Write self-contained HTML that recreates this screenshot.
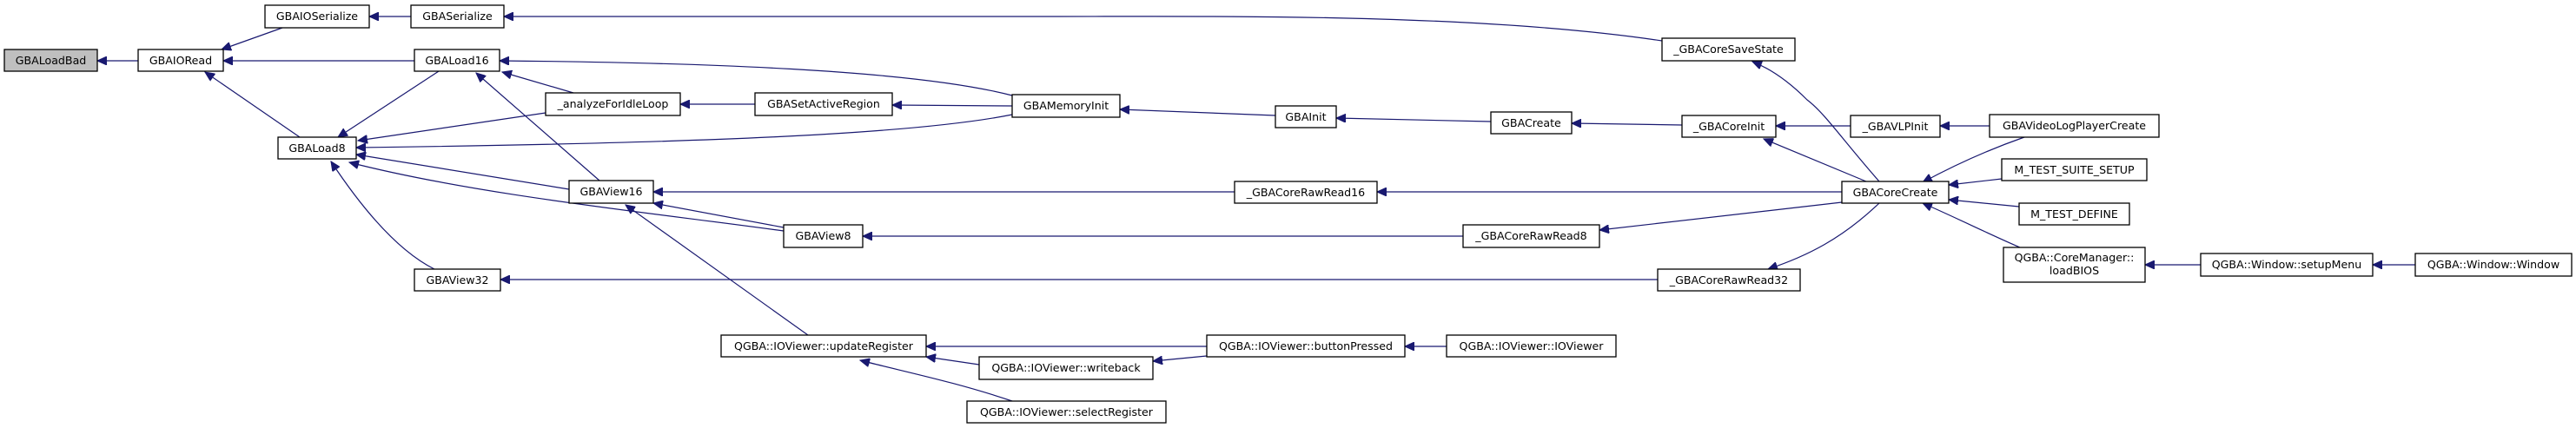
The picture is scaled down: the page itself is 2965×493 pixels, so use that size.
<!DOCTYPE html>
<html><head><meta charset="utf-8"><style>
html,body{margin:0;padding:0;background:#fff;}
svg{display:block}
text{font-family:"DejaVu Sans","Liberation Sans",sans-serif;font-size:12.6px;fill:#000;text-anchor:middle;}
.n{fill:#fff;stroke:#000;stroke-width:1.3}
.e{fill:none;stroke:#191970;stroke-width:1.2}
</style></head><body>
<svg width="2965" height="493" viewBox="0 0 2965 493" xmlns="http://www.w3.org/2000/svg">
<defs><marker id="a" markerUnits="userSpaceOnUse" markerWidth="12" markerHeight="10" refX="11" refY="5" orient="auto"><path d="M0,0 L11,5 L0,10 z" fill="#191970" stroke="#191970"/></marker></defs>
<g class="e" marker-end="url(#a)">
<path d="M159,70 L112,70"/>
<path d="M325,32 L255,57"/>
<path d="M473,19 L425,19"/>
<path d="M1913,47 C1700,15 1400,19 1200,19 L580,19"/>
<path d="M477,70 L257,70"/>
<path d="M345,158 L236,83"/>
<path d="M505,82 L389,158"/>
<path d="M1165,110 C1050,80 800,72 575,70"/>
<path d="M660,107 L578,83"/>
<path d="M628,130 L412,162"/>
<path d="M1165,132 C1050,155 800,165 410,170"/>
<path d="M655,218 L410,178"/>
<path d="M690,208 L548,84"/>
<path d="M902,266 C750,245 550,225 402,187"/>
<path d="M902,262 L752,234"/>
<path d="M500,310 C460,290 420,245 381,186"/>
<path d="M869,120 L783,120"/>
<path d="M1165,122 L1027,121"/>
<path d="M1468,133 L1289,126"/>
<path d="M1716,140 L1538,136"/>
<path d="M1936,144 L1809,142"/>
<path d="M2130,145 L2044,145"/>
<path d="M2290,145 L2233,145"/>
<path d="M2148,209 L2030,160"/>
<path d="M2163,209 C2120,160 2100,130 2080,115 C2060,95 2040,80 2017,71"/>
<path d="M1421,221 L752,221"/>
<path d="M2120,221 L1585,221"/>
<path d="M1684,272 L993,272"/>
<path d="M2120,233 L1841,265"/>
<path d="M2163,234 C2120,275 2080,295 2035,310"/>
<path d="M1908,322 L576,322"/>
<path d="M930,386 L720,236"/>
<path d="M1389,399 L1066,399"/>
<path d="M1127,420 L1066,411"/>
<path d="M1389,410 L1327,416"/>
<path d="M1165,462 C1100,440 1040,428 990,415"/>
<path d="M1665,399 L1617,399"/>
<path d="M2330,158 C2290,172 2250,190 2213,210"/>
<path d="M2304,206 L2243,213"/>
<path d="M2324,238 L2243,230"/>
<path d="M2325,285 C2290,270 2250,250 2213,234"/>
<path d="M2533,305 L2469,305"/>
<path d="M2780,305 L2731,305"/>
</g>
<g>
<rect x="5" y="57" width="107" height="25" fill="#bfbfbf" stroke="#000" stroke-width="1.3"/><text x="58.5" y="74">GBALoadBad</text>
<rect class="n" x="159" y="57" width="98" height="25"/><text x="208" y="74">GBAIORead</text>
<rect class="n" x="305" y="6" width="120" height="26"/><text x="365" y="23">GBAIOSerialize</text>
<rect class="n" x="473" y="6" width="107" height="26"/><text x="526.5" y="23">GBASerialize</text>
<rect class="n" x="477" y="57" width="98" height="25"/><text x="526" y="74">GBALoad16</text>
<rect class="n" x="628" y="107" width="155" height="26"/><text x="705.5" y="124">_analyzeForIdleLoop</text>
<rect class="n" x="320" y="158" width="90" height="25"/><text x="365" y="175">GBALoad8</text>
<rect class="n" x="655" y="208" width="97" height="26"/><text x="703.5" y="225">GBAView16</text>
<rect class="n" x="477" y="310" width="99" height="25"/><text x="526.5" y="327">GBAView32</text>
<rect class="n" x="869" y="107" width="158" height="26"/><text x="948" y="124">GBASetActiveRegion</text>
<rect class="n" x="1165" y="109" width="124" height="26"/><text x="1227" y="126">GBAMemoryInit</text>
<rect class="n" x="1468" y="122" width="70" height="25"/><text x="1503" y="139">GBAInit</text>
<rect class="n" x="1421" y="209" width="164" height="25"/><text x="1503" y="226">_GBACoreRawRead16</text>
<rect class="n" x="902" y="259" width="91" height="26"/><text x="947.5" y="276">GBAView8</text>
<rect class="n" x="830" y="386" width="236" height="25"/><text x="948" y="403">QGBA::IOViewer::updateRegister</text>
<rect class="n" x="1127" y="411" width="200" height="26"/><text x="1227" y="428">QGBA::IOViewer::writeback</text>
<rect class="n" x="1113" y="462" width="229" height="25"/><text x="1227.5" y="479">QGBA::IOViewer::selectRegister</text>
<rect class="n" x="1913" y="44" width="153" height="26"/><text x="1989.5" y="61">_GBACoreSaveState</text>
<rect class="n" x="1716" y="129" width="93" height="25"/><text x="1762.5" y="146">GBACreate</text>
<rect class="n" x="1936" y="133" width="108" height="25"/><text x="1990" y="150">_GBACoreInit</text>
<rect class="n" x="2130" y="133" width="103" height="25"/><text x="2181.5" y="150">_GBAVLPInit</text>
<rect class="n" x="2120" y="209" width="123" height="25"/><text x="2181.5" y="226">GBACoreCreate</text>
<rect class="n" x="1684" y="259" width="157" height="26"/><text x="1762.5" y="276">_GBACoreRawRead8</text>
<rect class="n" x="1908" y="310" width="164" height="25"/><text x="1990" y="327">_GBACoreRawRead32</text>
<rect class="n" x="1389" y="386" width="228" height="25"/><text x="1503" y="403">QGBA::IOViewer::buttonPressed</text>
<rect class="n" x="1665" y="386" width="195" height="25"/><text x="1762.5" y="403">QGBA::IOViewer::IOViewer</text>
<rect class="n" x="2290" y="132" width="195" height="26"/><text x="2387.5" y="149">GBAVideoLogPlayerCreate</text>
<rect class="n" x="2304" y="183" width="167" height="25"/><text x="2387.5" y="200">M_TEST_SUITE_SETUP</text>
<rect class="n" x="2324" y="234" width="127" height="25"/><text x="2387.5" y="251">M_TEST_DEFINE</text>
<rect class="n" x="2306" y="285" width="163" height="40"/><text x="2387.5" y="301">QGBA::CoreManager::</text><text x="2387.5" y="316">loadBIOS</text>
<rect class="n" x="2533" y="292" width="198" height="26"/><text x="2632" y="309">QGBA::Window::setupMenu</text>
<rect class="n" x="2780" y="292" width="180" height="26"/><text x="2870" y="309">QGBA::Window::Window</text>
</g>
</svg>
</body></html>
